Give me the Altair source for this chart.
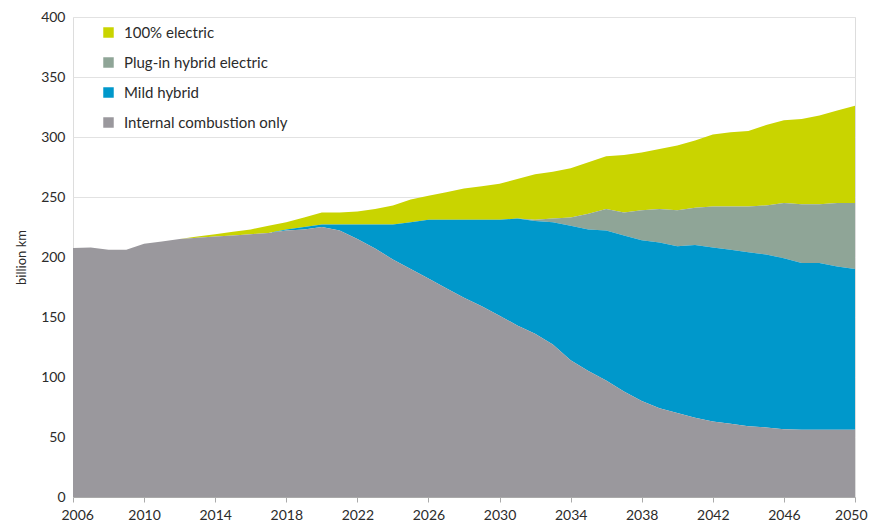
import altair as alt
import pandas as pd

years = list(range(2006, 2051))

ice = [207.5, 208, 206, 206, 211, 213, 215, 216, 217, 218, 219, 220, 222, 223, 225,
       222, 215, 207, 198, 190, 182, 174, 166, 159, 151, 143, 136, 127, 114, 105,
       97, 88, 80, 74, 70, 66, 63, 61, 59, 58, 56.5, 56, 56, 56, 56]

mild = [0, 0, 0, 0, 0, 0, 0, 0, 0, 0, 0, 0, 1, 2, 2,
        5, 12, 20, 29, 39, 49, 57, 65, 72, 80, 89, 94, 102, 112, 118,
        125, 130, 134, 138, 139, 144, 145, 145, 145, 144, 142.5, 139, 139, 136, 134]

phev = [0, 0, 0, 0, 0, 0, 0, 0, 0, 0, 0, 0, 0, 0, 0,
        0, 0, 0, 0, 0, 0, 0, 0, 0, 0, 0, 1, 3, 7, 13,
        18, 19, 25, 28, 30, 31, 34, 36, 38, 41, 46, 49, 49, 53, 55]

electric = [0, 0, 0, 0, 0, 0, 0, 1, 2, 3, 4, 6, 6, 8, 10,
            10, 11, 13, 16, 19, 20, 23, 26, 28, 30, 33, 38, 39, 41, 43,
            44, 48, 48, 50, 54, 56, 60, 62, 63, 67, 69, 71, 74, 77, 81]

series_names = ["100% electric", "Plug-in hybrid electric", "Mild hybrid", "Internal combustion only"]
series_colors = ["#C9D400", "#8FA597", "#0098CB", "#9A989D"]
stack_order = [4, 3, 2, 1]
x_ticks = list(range(2006, 2051, 4))
y_ticks = [0, 50, 100, 150, 200, 250, 300, 350, 400]

rows = []
for name, vals, order in zip(series_names, [electric, phev, mild, ice], stack_order):
    for yr, v in zip(years, vals):
        rows.append({"year": yr, "value": v, "series": name, "order": order})
df = pd.DataFrame(rows)

FONT = "Lato"

chart = alt.Chart(df).mark_area(interpolate="linear", opacity=1).encode(
    x=alt.X("year:Q",
            scale=alt.Scale(domain=[2006, 2050], nice=False, zero=False),
            axis=alt.Axis(values=x_ticks, format="d", title=None, grid=False,
                          labelFontSize=14, labelColor="#2b2b2b", labelPadding=6,
                          domainColor="#aaaaaa", tickColor="#aaaaaa", tickSize=5,
                          labelFont=FONT, labelFlush=True, labelFlushOffset=12)),
    y=alt.Y("value:Q", stack="zero",
            scale=alt.Scale(domain=[0, 400], nice=False),
            axis=alt.Axis(values=y_ticks, title="billion km", grid=True,
                          gridColor="#e2e2e2", domain=False, ticks=False,
                          labelFontSize=14, labelColor="#2b2b2b", labelPadding=8,
                          titleFontSize=13, titleFont=FONT, titleFontWeight="normal",
                          titleColor="#2b2b2b", titlePadding=12,
                          labelFont=FONT)),
    color=alt.Color("series:N",
                    scale=alt.Scale(domain=series_names, range=series_colors),
                    legend=alt.Legend(title=None, orient="none", legendX=28, legendY=8,
                                      symbolType="square", symbolSize=110,
                                      symbolStrokeWidth=0, labelLimit=0,
                                      labelFontSize=15, labelFont=FONT,
                                      labelColor="#2b2b2b", rowPadding=14,
                                      labelOffset=8)),
    order=alt.Order("order:Q", sort="ascending"),
).properties(
    width=782, height=480,
    autosize=alt.AutoSizeParams(type="none"),
    padding={"left": 65, "top": 9, "right": 13, "bottom": 26},
).configure_view(strokeWidth=0).configure(background="white")

chart.save("out.html", embed_options={"renderer": "svg", "actions": False})
